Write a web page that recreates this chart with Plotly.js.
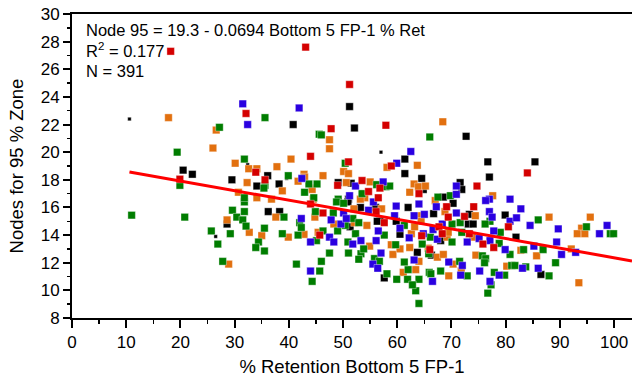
<!DOCTYPE html>
<html>
<head>
<meta charset="utf-8">
<script src="https://cdn.plot.ly/plotly-3.0.1.min.js"></script>
<style>html,body{margin:0;padding:0;background:#fff;}#chart{width:634px;height:377px;}</style>
</head>
<body>
<div id="chart"></div>
<script>
// ---- data ----
const blackX = [20.5,22.2,29.5,34.1,36.1,38.2,40.8,28.6,36.2,38.3,51.2,52.1,49.1,51.5,51.0,72.7,61.4,76.7,61.4,77.0,64.5,71.6,71.9,64.8,68.5,85.4,51.3,53.2,57.6,56.0,56.8,62.0,66.7,70.3,73.3,79.9,73.1,74.0,60.5,68.0,63.7,66.3,81.9,86.5,50.9,56.3,59.8];
const blackY = [18.7,18.4,18.0,17.55,18.3,17.7,22.0,14.8,15.7,15.7,23.3,21.75,17.8,17.75,16.6,21.15,19.5,19.3,18.45,18.2,18.1,17.8,17.3,17.3,16.75,19.3,14.6,16.0,10.9,16.0,15.0,16.0,15.55,16.3,15.5,15.45,14.8,14.8,14.06,13.6,12.75,12.55,13.85,11.15,16.4,15.0,15.0];
const blackSmallX = [10.6,32.4,39.6,26.5,57.0];
const blackSmallY = [22.4,19.1,18.1,13.9,20.0];
const redX = [18.2,43.1,32.1,44.0,19.9,33.9,35.6,51.2,47.8,57.9,51.0,58.9,49.0,53.5,56.8,54.7,56.5,74.7,64.0,84.0,44.0,46.3,45.7,56.1,57.6,69.1,69.4,72.4,74.1,80.5,67.7,68.3,64.5,73.3,75.8,77.8,66.0];
const redY = [27.3,27.6,22.8,19.7,18.05,18.55,18.0,24.9,21.7,21.95,19.3,19.0,17.6,17.95,17.4,17.15,16.7,17.55,17.0,18.5,16.25,15.6,14.0,15.7,14.9,16.05,15.3,15.35,16.05,14.6,14.6,14.1,13.95,14.1,13.35,13.1,12.95];
const orangeX = [17.8,26.6,26.0,30.1,32.6,34.1,32.3,37.8,40.4,41.7,42.8,44.2,30.7,38.8,34.1,36.8,37.6,28.6,32.7,35.0,28.9,47.5,47.5,50.1,51.0,58.1,42.9,46.3,44.3,50.6,55.0,54.0,68.4,63.7,63.1,63.9,65.2,62.3,77.6,39.9,42.8,45.4,44.8,48.3,52.1,52.0,54.9,54.4,57.1,53.2,44.5,64.2,64.4,67.0,68.8,74.4,69.2,69.4,62.6,63.2,73.9,80.2,74.5,65.7,67.4,68.5,70.3,71.8,69.5,63.4,61.1,64.0,59.2,58.9,60.5,62.3,88.0,95.6,94.0,93.2,94.6,82.8,92.1,85.7,93.5];
const orangeY = [22.5,21.6,20.3,19.2,18.8,18.8,17.8,18.95,19.5,17.9,18.4,17.4,17.1,17.2,16.7,16.6,15.3,15.1,14.2,13.96,11.9,20.9,20.25,18.6,18.45,18.9,18.2,18.3,17.3,17.8,17.85,16.7,22.2,19.05,17.7,17.5,17.55,17.1,16.85,13.85,14.05,14.2,15.3,14.8,14.9,15.9,13.2,14.7,15.9,16.6,16.6,15.4,15.0,16.5,15.7,15.4,13.85,14.2,14.1,14.6,13.85,11.75,12.55,13.05,12.4,12.6,11.9,11.4,11.05,11.5,11.3,12.1,12.6,13.3,13.0,13.1,15.3,15.3,14.5,14.1,14.1,12.9,13.0,12.5,10.55];
const greenX = [11.0,19.4,19.9,20.8,27.2,35.6,35.6,39.9,43.7,45.2,45.6,29.6,30.4,31.8,31.8,31.5,32.1,25.7,29.2,26.9,34.4,33.9,35.5,27.8,35.5,39.1,31.8,31.8,35.4,46.0,50.4,56.2,57.9,53.5,44.6,49.1,42.9,66.0,58.6,67.5,69.8,38.8,41.7,42.0,42.3,41.4,45.1,45.7,44.3,46.0,47.5,46.3,44.9,48.8,50.1,48.2,50.4,49.0,51.8,52.9,52.3,50.9,51.0,53.3,53.8,52.9,55.8,56.7,58.1,57.6,77.1,79.0,76.2,70.1,61.3,66.1,70.1,71.9,78.8,80.8,81.1,77.9,79.8,77.3,76.7,75.7,76.3,76.1,65.8,71.5,72.9,68.0,65.9,66.2,64.0,63.4,64.0,61.9,62.8,59.9,62.0,61.3,59.7,64.6,86.0,94.9,99.3,99.9,86.9,83.3,89.2,81.7,83.7,88.0,71.6];
const greenY = [15.44,20.0,17.6,15.3,21.8,22.5,17.6,18.3,17.7,17.7,21.3,15.8,15.3,16.4,15.7,15.1,14.65,14.3,14.1,13.35,13.5,13.1,12.85,12.1,14.5,15.3,19.5,16.7,17.4,21.25,19.2,17.65,17.5,17.0,16.7,16.6,17.1,21.1,17.55,16.75,16.85,14.1,14.0,14.9,14.55,11.9,13.6,11.4,10.65,12.1,12.7,14.3,15.7,16.4,16.3,15.6,14.7,14.3,15.2,14.9,14.1,13.5,12.7,12.65,13.0,12.25,12.3,12.1,11.2,14.0,15.0,14.2,14.8,14.8,14.7,13.85,13.5,14.2,13.4,12.6,11.8,11.3,11.1,10.4,9.8,12.5,12.3,12.0,12.65,12.1,11.05,11.4,11.3,11.2,10.8,9.97,9.05,10.8,10.4,10.8,11.5,12.05,13.3,13.35,15.1,14.6,14.1,14.1,12.95,12.95,12.0,11.8,11.7,11.05,14.9];
const blueX = [31.5,32.4,41.9,42.4,52.3,57.4,51.2,62.5,59.9,70.9,70.9,77.0,80.8,42.3,44.0,44.0,47.5,48.3,50.1,47.8,49.6,50.6,51.8,53.3,56.1,57.0,55.5,56.4,54.7,56.5,55.6,59.8,64.0,59.5,63.1,65.0,67.2,70.9,76.3,77.0,77.5,80.8,68.3,66.6,64.8,60.5,62.2,67.4,72.9,75.1,77.1,79.9,75.2,78.8,77.1,69.5,72.0,71.7,66.5,63.1,82.8,82.0,84.5,89.7,97.3,98.7,89.4,85.2,90.3,92.9,83.1,86.0,77.8];
const blueY = [23.5,22.0,23.2,18.1,17.55,17.85,16.85,20.05,19.2,17.55,16.95,16.6,16.6,15.2,13.5,11.4,13.85,13.5,15.6,15.1,14.8,15.2,13.35,13.6,13.6,12.7,11.9,11.6,15.8,14.3,16.4,16.1,16.25,15.4,15.4,15.5,16.05,15.6,16.5,15.7,15.3,15.0,14.8,14.4,14.1,14.5,13.8,13.7,13.5,13.75,13.6,12.95,11.4,11.1,10.65,12.05,11.8,11.1,10.65,12.2,15.9,15.25,14.7,14.45,14.1,14.7,13.5,13.2,12.6,12.75,11.6,11.6,14.3];
// regression: Node 95 = 19.3 - 0.0694 * x
const fitIntercept = 19.3;
const fitSlope = -0.0694;
const fitXRange = [10.6, 103.3];
const xTicks = [0,10,20,30,40,50,60,70,80,90,100];
const yTicks = [8,10,12,14,16,18,20,22,24,26,28,30];

const FONT = 'Liberation Sans, Arial, Helvetica, sans-serif';
function pts(x, y, color, size) {
  return {x: x, y: y, type: 'scatter', mode: 'markers', showlegend: false, hoverinfo: 'x+y',
    marker: {symbol: 'square', size: size, color: color, line: {width: 0.6, color: 'rgba(255,255,255,0.6)'}}};
}
const fitY = fitXRange.map(v => fitIntercept + fitSlope * v);
const data = [
  pts(blackX, blackY, '#000000', 7.5),
  pts(blackSmallX, blackSmallY, '#000000', 3.5),
  pts(orangeX, orangeY, '#e2700f', 7.5),
  pts(greenX, greenY, '#007d00', 7.5),
  pts(blueX, blueY, '#2a00e0', 7.5),
  pts(redX, redY, '#d40000', 7.5),
  {x: fitXRange, y: fitY, type: 'scatter', mode: 'lines', showlegend: false,
   line: {color: '#ff0000', width: 3}}
];
const layout = {
  width: 634, height: 377,
  margin: {l: 72, r: 2, t: 14, b: 59},
  paper_bgcolor: '#ffffff', plot_bgcolor: '#ffffff',
  font: {family: FONT, color: '#000', size: 17},
  showlegend: false,
  xaxis: {
    range: [0, 103.3], tickvals: xTicks, ticks: 'outside', ticklen: 8, tickwidth: 2, tickcolor: '#000',
    showline: true, linewidth: 2, linecolor: '#000', mirror: true, showgrid: false, zeroline: false,
    tickfont: {family: FONT, size: 17, color: '#000'},
    minor: {dtick: 5, ticks: 'outside', ticklen: 4, tickwidth: 1.5, tickcolor: '#000', showgrid: false},
    title: {text: '% Retention Bottom 5 FP-1', font: {family: FONT, size: 18.5, color: '#000'}, standoff: 15}
  },
  yaxis: {
    range: [8, 30], tickvals: yTicks, ticks: 'outside', ticklen: 7, tickwidth: 2, tickcolor: '#000',
    showline: true, linewidth: 2, linecolor: '#000', showgrid: false, zeroline: false,
    tickfont: {family: FONT, size: 17, color: '#000'},
    minor: {dtick: 1, ticks: 'outside', ticklen: 3, tickwidth: 1.5, tickcolor: '#000', showgrid: false},
    title: {text: 'Nodes for 95 % Zone', font: {family: FONT, size: 18.5, color: '#000'}, standoff: 12}
  },
  annotations: [
    {xref: 'paper', yref: 'paper', x: 0.021, y: 0.947, xanchor: 'left', yanchor: 'middle', showarrow: false,
     text: 'Node 95 = 19.3 - 0.0694 Bottom 5 FP-1 % Ret', font: {family: FONT, size: 16.5, color: '#000'}},
    {xref: 'paper', yref: 'paper', x: 0.021, y: 0.880, xanchor: 'left', yanchor: 'middle', showarrow: false,
     text: 'R<sup>2</sup> = 0.177', font: {family: FONT, size: 16.5, color: '#000'}},
    {xref: 'paper', yref: 'paper', x: 0.021, y: 0.813, xanchor: 'left', yanchor: 'middle', showarrow: false,
     text: 'N = 391', font: {family: FONT, size: 16.5, color: '#000'}}
  ]
};
Plotly.newPlot('chart', data, layout, {displayModeBar: false, staticPlot: true});
</script>
</body>
</html>
